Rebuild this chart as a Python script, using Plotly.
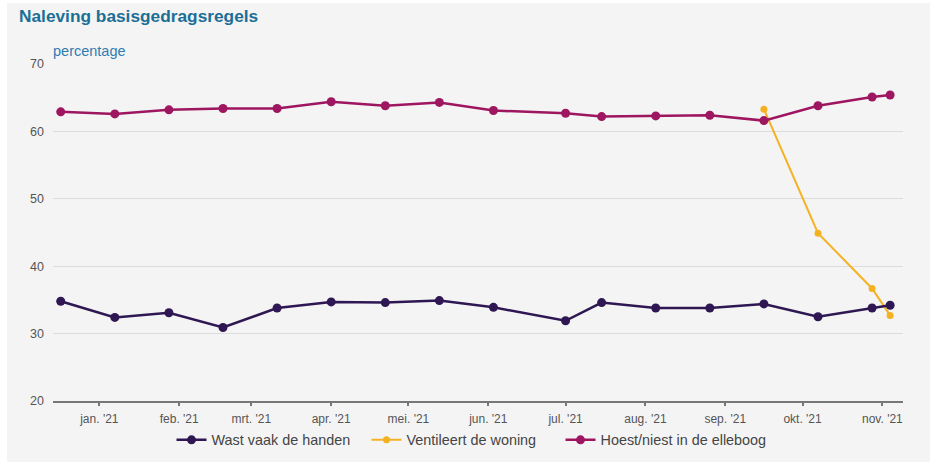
import plotly.graph_objects as go

# ---- data ----
dates = ["2020-12-17", "2021-01-07", "2021-01-28", "2021-02-18", "2021-03-11",
         "2021-04-01", "2021-04-22", "2021-05-13", "2021-06-03", "2021-07-01",
         "2021-07-15", "2021-08-05", "2021-08-26", "2021-09-16", "2021-10-07",
         "2021-10-28", "2021-11-04"]
wast = [34.8, 32.4, 33.1, 30.9, 33.8, 34.7, 34.6, 34.9, 33.9, 31.9,
        34.6, 33.8, 33.8, 34.4, 32.5, 33.8, 34.2]
hoest = [62.9, 62.6, 63.2, 63.4, 63.4, 64.4, 63.8, 64.3, 63.1, 62.7,
         62.2, 62.3, 62.4, 61.6, 63.8, 65.1, 65.4]
vent_dates = ["2021-09-16", "2021-10-07", "2021-10-28", "2021-11-04"]
vent = [63.3, 44.9, 36.7, 32.7]

tick_vals = ["2021-01-01", "2021-02-01", "2021-03-01", "2021-04-01", "2021-05-01",
             "2021-06-01", "2021-07-01", "2021-08-01", "2021-09-01", "2021-10-01",
             "2021-11-01"]
tick_text = ["jan. '21", "feb. '21", "mrt. '21", "apr. '21", "mei. '21", "jun. '21",
             "jul. '21", "aug. '21", "sep. '21", "okt. '21", "nov. '21"]

title_text = "Naleving basisgedragsregels"
yaxis_label = "percentage"

C_WAST = "#2e1752"
C_VENT = "#f4b223"
C_HOEST = "#9e1560"

FONT = "Liberation Sans, Arial, sans-serif"

fig = go.Figure()
fig.add_trace(go.Scatter(x=vent_dates, y=vent, name="Ventileert de woning",
                         mode="lines+markers", legendrank=2, legend="legend",
                         line=dict(color=C_VENT, width=2),
                         marker=dict(color=C_VENT, size=7)))
fig.add_trace(go.Scatter(x=dates, y=wast, name="Wast vaak de handen",
                         mode="lines+markers", legendrank=1, legend="legend",
                         line=dict(color=C_WAST, width=2.5),
                         marker=dict(color=C_WAST, size=9)))
fig.add_trace(go.Scatter(x=dates, y=hoest, name="Hoest/niest in de elleboog",
                         mode="lines+markers", legendrank=3, legend="legend2",
                         line=dict(color=C_HOEST, width=2.5),
                         marker=dict(color=C_HOEST, size=9)))

L, R, T, B = 53, 30, 64, 68
W, H = 933, 469
pw, ph = W - L - R, H - T - B


def px_x(p):
    return (p - L) / pw


def px_y(p):
    return (H - B - p) / ph


fig.add_shape(type="rect", xref="paper", yref="paper",
              x0=px_x(7), x1=px_x(930), y0=px_y(462), y1=px_y(3),
              fillcolor="#f4f4f4", line=dict(width=0), layer="below")

fig.add_annotation(text="<b>" + title_text + "</b>", xref="paper", yref="paper",
                   x=px_x(17), y=px_y(16), xanchor="left", yanchor="middle",
                   showarrow=False, font=dict(family=FONT, size=17.3, color="#1b6f97"))
fig.add_annotation(text=yaxis_label, xref="paper", yref="paper",
                   x=px_x(51), y=px_y(51), xanchor="left", yanchor="middle",
                   showarrow=False, font=dict(family=FONT, size=14.5, color="#2f7cb3"))

legend_common = dict(orientation="h", xanchor="left", y=px_y(440), yanchor="middle",
                     font=dict(family=FONT, size=14.4, color="#444444"),
                     bgcolor="rgba(0,0,0,0)", itemwidth=30, traceorder="normal")

fig.update_layout(
    width=W, height=H,
    margin=dict(l=L, r=R, t=T, b=B, pad=0, autoexpand=False),
    paper_bgcolor="white",
    plot_bgcolor="rgba(0,0,0,0)",
    font=dict(family=FONT, size=12, color="#555555"),
    showlegend=True,
    legend=dict(x=px_x(171.5), entrywidth=150, entrywidthmode="pixels", **legend_common),
    legend2=dict(x=px_x(560.5), **legend_common),
)
fig.update_xaxes(type="date", range=["2020-12-14", "2021-11-09"],
                 tickvals=tick_vals, ticktext=tick_text,
                 showgrid=False, zeroline=False,
                 showline=True, linecolor="#777777", linewidth=2,
                 ticks="outside", ticklen=3, tickcolor="#777777", tickwidth=1.5,
                 ticklabelstandoff=3,
                 tickfont=dict(family=FONT, size=12, color="#555555"))
fig.update_yaxes(range=[20, 70], tickvals=[20, 30, 40, 50, 60, 70],
                 showgrid=True, gridcolor="#dcdcdc", gridwidth=1,
                 zeroline=False, showline=False, ticks="",
                 ticklabelstandoff=8,
                 tickfont=dict(family=FONT, size=12.5, color="#555555"))

fig.write_html("out.html", config={"displayModeBar": False},
               post_script="document.body.style.margin='0';")
